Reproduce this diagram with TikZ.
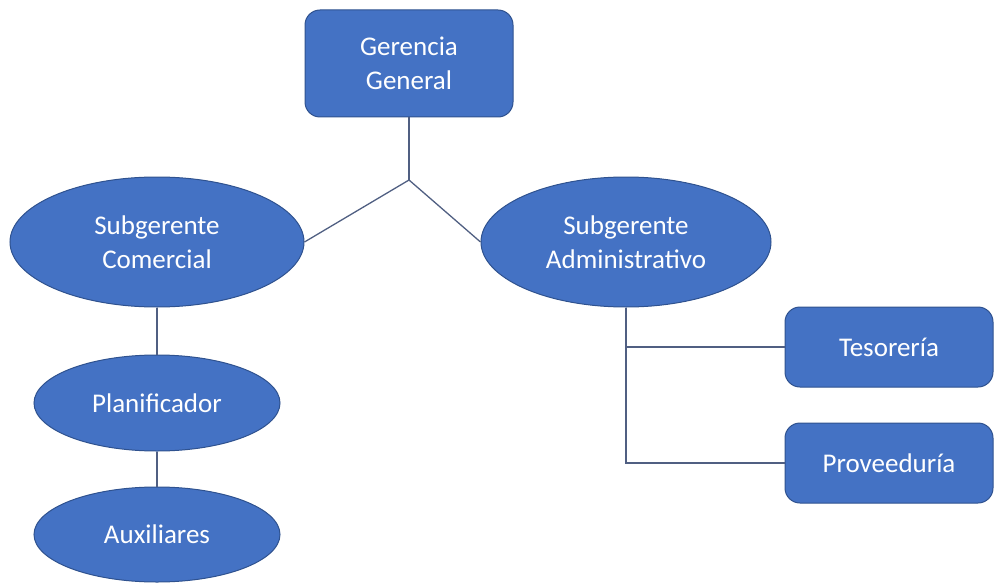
\documentclass[tikz,border=0pt]{standalone}
\usepackage{fontspec}
\setmainfont{Carlito}
\usetikzlibrary{shapes.geometric}
\definecolor{boxfill}{HTML}{4472C4}
\definecolor{boxline}{HTML}{2F528F}
\definecolor{conn}{RGB}{80,95,130}
\tikzset{
  lbl/.style={text=white, font=\fontsize{27}{34}\selectfont, align=center, inner sep=0pt},
  rbox/.style={lbl, draw=boxline, fill=boxfill, line width=1pt, rounded corners=15pt},
  ebox/.style={lbl, ellipse, draw=boxline, fill=boxfill, line width=1pt},
  link/.style={draw=conn, line width=1.3pt}
}
\begin{document}
\begin{tikzpicture}[x=1pt,y=1pt]
\useasboundingbox (0,0) rectangle (995,-583);
\node[rbox, minimum width=208pt, minimum height=107pt] (gg) at (409,-63.5) {Gerencia\\General};
\node[ebox, minimum width=294pt, minimum height=130pt] (com) at (157,-242) {Subgerente\\Comercial};
\node[ebox, minimum width=290pt, minimum height=130pt] (adm) at (626,-242) {Subgerente\\Administrativo};
\node[ebox, minimum width=246pt, minimum height=96pt] (pla) at (157,-403) {Planificador};
\node[ebox, minimum width=246pt, minimum height=95pt] (aux) at (157,-534.5) {Auxiliares};
\node[rbox, minimum width=208pt, minimum height=80pt] (tes) at (889,-347) {Tesorería};
\node[rbox, minimum width=208pt, minimum height=80pt] (pro) at (889,-463) {Proveeduría};
\coordinate (j) at (409,-180);
\draw[link] (gg.south) -- (j);
\draw[link] (j) -- (com.east);
\draw[link] (j) -- (adm.west);
\draw[link] (com.south) -- (pla.north);
\draw[link] (pla.south) -- (aux.north);
\draw[link] (adm.south) |- (pro.west);
\draw[link] (adm.south |- tes.west) -- (tes.west);
\end{tikzpicture}
\end{document}
